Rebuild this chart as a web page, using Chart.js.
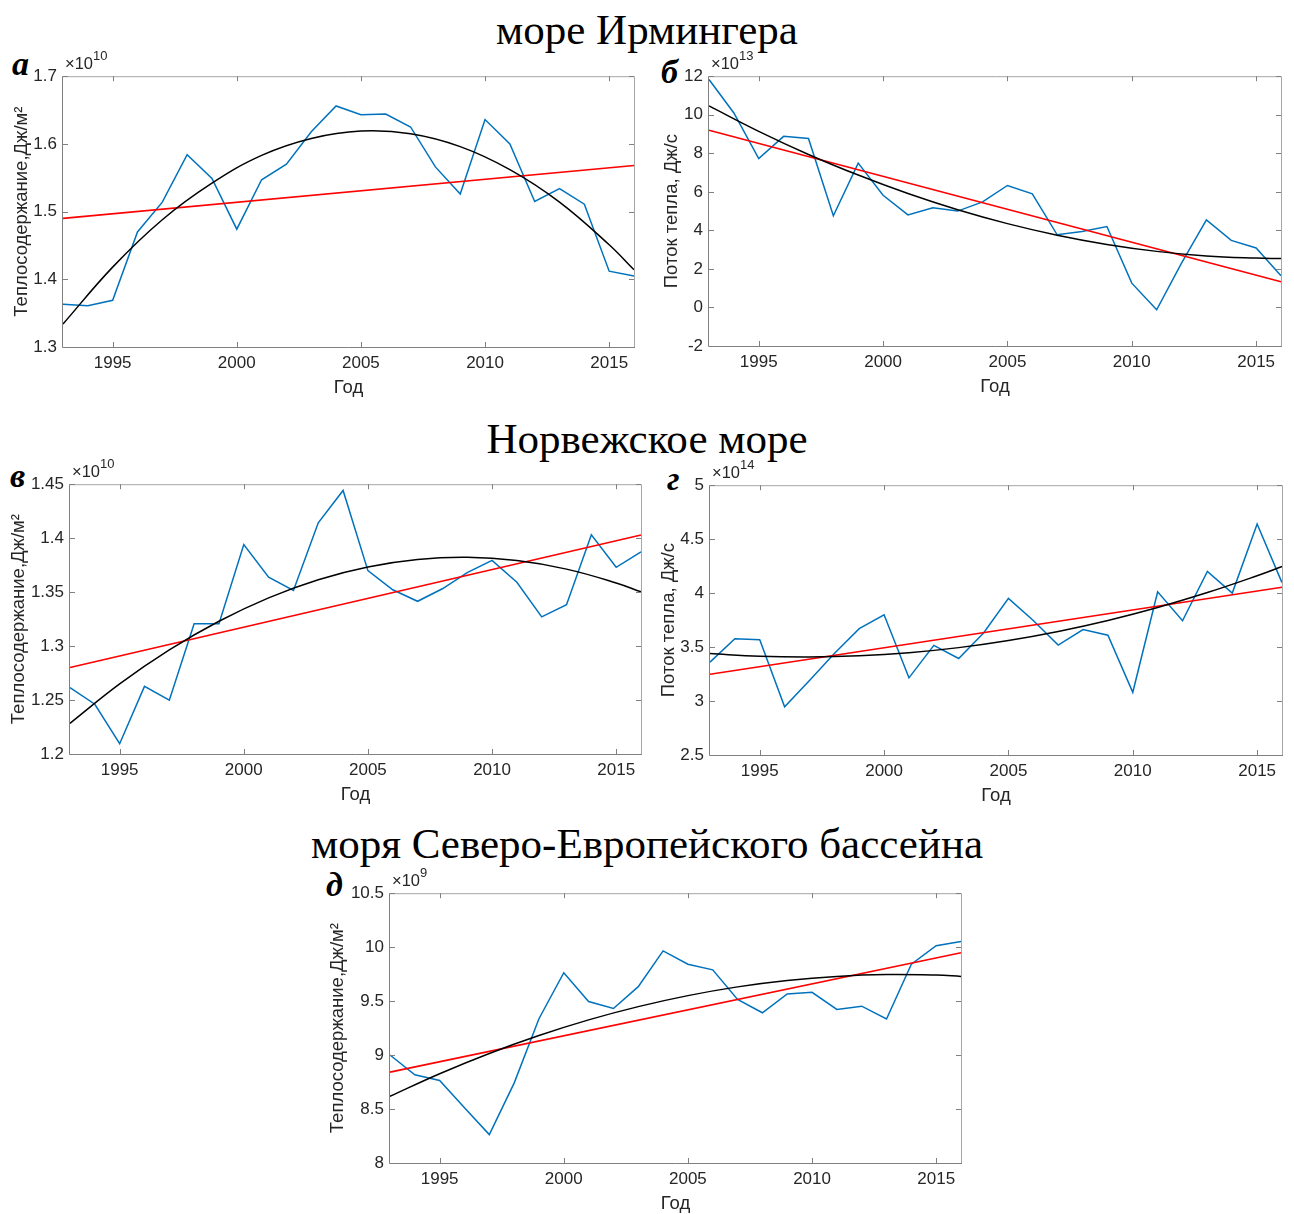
<!DOCTYPE html>
<html>
<head>
<meta charset="utf-8">
<script src="https://cdn.jsdelivr.net/npm/chart.js@4.4.1/dist/chart.umd.min.js"></script>
<style>
  body { margin: 0; background: #fff; width: 1294px; height: 1214px; position: relative; overflow: hidden; }
  .title { position: absolute; left: 0; width: 1294px; text-align: center; font-family: 'Liberation Serif', 'Times New Roman', serif; font-size: 43px; line-height: 1; color: #000; }
  .letter { position: absolute; font-family: 'Liberation Serif', 'Times New Roman', serif; font-weight: bold; font-style: italic; font-size: 34px; line-height: 1; color: #000; }
  .expo { position: absolute; font-family: 'Liberation Sans', Arial, sans-serif; font-size: 16.5px; line-height: 1; color: #262626; white-space: nowrap; }
  .expo sup { font-size: 13px; position: relative; top: -2px; }
  canvas { position: absolute; }
</style>
</head>
<body>
<div class="title" style="top:8px">море Ирмингера</div>
<div class="title" style="top:417px">Норвежское море</div>
<div class="title" style="top:822px">моря Северо-Европейского бассейна</div>

<div class="letter" style="left:12px;top:47px">а</div>
<div class="letter" style="left:661px;top:55px">б</div>
<div class="letter" style="left:10px;top:459px">в</div>
<div class="letter" style="left:667px;top:462px">г</div>
<div class="letter" style="left:326px;top:868px">д</div>

<canvas id="pa"></canvas>
<canvas id="pb"></canvas>
<canvas id="pv"></canvas>
<canvas id="pg"></canvas>
<canvas id="pd"></canvas>

<script>
// years of observations
const years = [1993, 1994, 1995, 1996, 1997, 1998, 1999, 2000, 2001, 2002, 2003, 2004,
               2005, 2006, 2007, 2008, 2009, 2010, 2011, 2012, 2013, 2014, 2015, 2016];
const linYears = [1993, 2016];
const quadYears = [1993, 1995, 1997, 1999, 2001, 2003, 2005, 2007, 2009, 2011, 2013, 2015, 2016];
const xTicks = [1995, 2000, 2005, 2010, 2015];

// а: море Ирмингера, теплосодержание (x1e10)
const irmHeat = [1.363, 1.361, 1.369, 1.470, 1.514, 1.584, 1.549, 1.474, 1.547, 1.570, 1.618, 1.656,
                 1.643, 1.644, 1.625, 1.566, 1.526, 1.636, 1.600, 1.515, 1.534, 1.511, 1.412, 1.405];
const irmHeatLin = [1.490, 1.568];
const irmHeatQuad = [1.334, 1.418, 1.488, 1.542, 1.583, 1.608, 1.619, 1.615, 1.596, 1.562, 1.514, 1.451, 1.414];
const irmHeatTicks = [1.3, 1.4, 1.5, 1.6, 1.7];

// б: море Ирмингера, поток тепла (x1e13)
const irmFlux = [11.83, 10.09, 7.73, 8.88, 8.77, 4.76, 7.49, 5.82, 4.80, 5.17, 5.00, 5.48,
                 6.33, 5.90, 3.77, 3.94, 4.20, 1.26, -0.12, 2.30, 4.54, 3.48, 3.09, 1.64];
const irmFluxLin = [9.20, 1.33];
const irmFluxQuad = [10.46, 9.14, 7.94, 6.87, 5.91, 5.07, 4.35, 3.75, 3.27, 2.91, 2.67, 2.56, 2.54];
const irmFluxTicks = [-2, 0, 2, 4, 6, 8, 10, 12];

// в: Норвежское море, теплосодержание (x1e10)
const norHeat = [1.2614, 1.2461, 1.2095, 1.2627, 1.2498, 1.3207, 1.3207, 1.3941, 1.3638, 1.3516, 1.4142, 1.4442,
                 1.3699, 1.3522, 1.3415, 1.3531, 1.3681, 1.3794, 1.3592, 1.3271, 1.3384, 1.4032, 1.3730, 1.3873];
const norHeatLin = [1.2801, 1.4029];
const norHeatQuad = [1.2284, 1.2649, 1.2964, 1.3230, 1.3447, 1.3615, 1.3733, 1.3802, 1.3822, 1.3792, 1.3713, 1.3585, 1.3503];
const norHeatTicks = [1.2, 1.25, 1.3, 1.35, 1.4, 1.45];

// г: Норвежское море, поток тепла (x1e14)
const norFlux = [3.361, 3.577, 3.568, 2.947, 3.190, 3.440, 3.671, 3.799, 3.215, 3.516, 3.394, 3.631,
                 3.951, 3.747, 3.519, 3.662, 3.610, 3.081, 4.012, 3.744, 4.200, 4.000, 4.641, 4.097];
const norFluxLin = [3.248, 4.054];
const norFluxQuad = [3.440, 3.415, 3.408, 3.419, 3.448, 3.495, 3.561, 3.645, 3.747, 3.867, 4.005, 4.161, 4.246];
const norFluxTicks = [2.5, 3, 3.5, 4, 4.5, 5];

// д: моря Северо-Европейского бассейна, теплосодержание (x1e9)
const nebHeat = [9.001, 8.817, 8.765, 8.511, 8.263, 8.740, 9.337, 9.763, 9.496, 9.432, 9.634, 9.965,
                 9.842, 9.790, 9.515, 9.392, 9.567, 9.582, 9.423, 9.453, 9.334, 9.842, 10.013, 10.053];
const nebHeatLin = [8.842, 9.949];
const nebHeatQuad = [8.618, 8.827, 9.015, 9.181, 9.326, 9.449, 9.551, 9.632, 9.691, 9.729, 9.746, 9.741, 9.729];
const nebHeatTicks = [8, 8.5, 9, 9.5, 10, 10.5];

const heatLabel = 'Теплосодержание,Дж/м²';
const fluxLabel = 'Поток тепла, Дж/с';

const AXW = 70;   // room left of the plot box for ticks and title
const AXH = 55;   // room below the plot box
const TEXT = '#262626';
const TITLE_SIZE = 18.5;

const pair = (xs, ys) => xs.map((x, i) => ({ x: x, y: ys[i] }));

// matlab-like box with inward ticks on all sides
const boxPlugin = {
  id: 'mbox',
  afterDraw(chart) {
    const { ctx, chartArea: a, scales } = chart;
    const x = scales.x, y = scales.y;
    const tl = 5;
    ctx.save();
    ctx.lineWidth = 1;
    ctx.strokeStyle = '#a6a6a6';
    ctx.beginPath();
    ctx.moveTo(a.left, a.top + 0.5); ctx.lineTo(a.right + 0.5, a.top + 0.5);
    ctx.lineTo(a.right + 0.5, a.bottom);
    ctx.stroke();
    ctx.strokeStyle = '#808080';
    ctx.beginPath();
    ctx.moveTo(a.left - 0.5, a.top); ctx.lineTo(a.left - 0.5, a.bottom + 0.5);
    ctx.lineTo(a.right + 1, a.bottom + 0.5);
    ctx.stroke();
    ctx.beginPath();
    x.ticks.forEach(t => {
      const px = Math.round(x.getPixelForValue(t.value)) + 0.5;
      ctx.moveTo(px, a.bottom); ctx.lineTo(px, a.bottom - tl);
      ctx.moveTo(px, a.top); ctx.lineTo(px, a.top + tl);
    });
    y.ticks.forEach(t => {
      const py = Math.round(y.getPixelForValue(t.value)) + 0.5;
      ctx.moveTo(a.left, py); ctx.lineTo(a.left + tl, py);
      ctx.moveTo(a.right, py); ctx.lineTo(a.right - tl, py);
    });
    ctx.stroke();
    ctx.restore();
  }
};

function makePanel(id, p) {
  const cv = document.getElementById(id);
  const w = p.plotW + AXW + 12;
  const h = p.plotH + 12 + AXH;
  cv.width = w; cv.height = h;
  cv.style.left = (p.plotLeft - AXW) + 'px';
  cv.style.top = (p.plotTop - 12) + 'px';

  const ex = document.createElement('div');
  ex.className = 'expo';
  ex.innerHTML = '×10<sup>' + p.expo + '</sup>';
  ex.style.left = (p.plotLeft + 2) + 'px';
  ex.style.top = (p.plotTop - 21) + 'px';
  document.body.appendChild(ex);

  new Chart(cv, {
    type: 'line',
    data: {
      datasets: [
        { data: pair(quadYears, p.quad), borderColor: '#000000', borderWidth: 1.5, tension: 0.4 },
        { data: pair(linYears, p.lin), borderColor: '#ff0000', borderWidth: 1.6 },
        { data: pair(years, p.vals), borderColor: '#0072bd', borderWidth: 1.5 }
      ]
    },
    options: {
      responsive: false,
      animation: false,
      devicePixelRatio: 1,
      clip: false,
      layout: { padding: { left: 0, top: 12, right: 12, bottom: 0 } },
      elements: { point: { radius: 0 }, line: { fill: false } },
      plugins: { legend: { display: false }, tooltip: { enabled: false } },
      scales: {
        x: {
          type: 'linear', min: 1993, max: 2016,
          grid: { display: false, drawTicks: false },
          border: { display: false },
          afterBuildTicks: s => { s.ticks = xTicks.map(v => ({ value: v })); },
          afterFit: s => { s.height = AXH; },
          ticks: { color: TEXT, padding: 6, maxRotation: 0, font: { family: 'Liberation Sans', size: 17 }, callback: v => String(v) },
          title: { display: true, text: 'Год', color: TEXT, padding: { top: 0, bottom: 3 }, font: { family: 'Liberation Sans', size: TITLE_SIZE } }
        },
        y: {
          type: 'linear', min: p.ticks[0], max: p.ticks[p.ticks.length - 1],
          grid: { display: false, drawTicks: false },
          border: { display: false },
          afterBuildTicks: s => { s.ticks = p.ticks.map(v => ({ value: v })); },
          afterFit: s => { s.width = AXW; },
          ticks: { color: TEXT, padding: 6, font: { family: 'Liberation Sans', size: 17 }, callback: v => String(Math.round(v * 1000) / 1000) },
          title: { display: true, text: p.label, color: TEXT, padding: { top: AXW - p.titleDist - TITLE_SIZE * 0.6, bottom: 0 }, font: { family: 'Liberation Sans', size: TITLE_SIZE } }
        }
      }
    },
    plugins: [boxPlugin]
  });
}

makePanel('pa', { plotLeft: 63, plotTop: 72, plotW: 571, plotH: 275, titleDist: 41, expo: 10,
  vals: irmHeat, lin: irmHeatLin, quad: irmHeatQuad, ticks: irmHeatTicks, label: heatLabel });
makePanel('pb', { plotLeft: 709, plotTop: 72, plotW: 572, plotH: 274, titleDist: 37, expo: 13,
  vals: irmFlux, lin: irmFluxLin, quad: irmFluxQuad, ticks: irmFluxTicks, label: fluxLabel });
makePanel('pv', { plotLeft: 70, plotTop: 480, plotW: 571, plotH: 274, titleDist: 51, expo: 10,
  vals: norHeat, lin: norHeatLin, quad: norHeatQuad, ticks: norHeatTicks, label: heatLabel });
makePanel('pg', { plotLeft: 710, plotTop: 481, plotW: 572, plotH: 274, titleDist: 41, expo: 14,
  vals: norFlux, lin: norFluxLin, quad: norFluxQuad, ticks: norFluxTicks, label: fluxLabel });
makePanel('pd', { plotLeft: 390, plotTop: 889, plotW: 571, plotH: 274, titleDist: 52, expo: 9,
  vals: nebHeat, lin: nebHeatLin, quad: nebHeatQuad, ticks: nebHeatTicks, label: heatLabel });
</script>
</body>
</html>
